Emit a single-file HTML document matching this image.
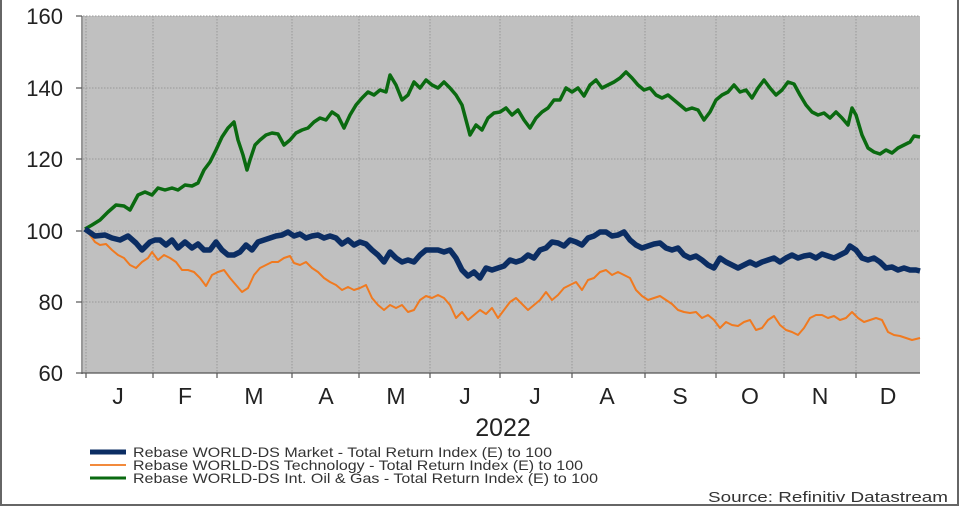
<!DOCTYPE html>
<html><head><style>body{margin:0;background:#fff}svg{display:block;font-family:"Liberation Sans",sans-serif}</style></head><body>
<svg width="960" height="508" xmlns="http://www.w3.org/2000/svg">
<rect x="1" y="-2" width="957" height="507" fill="#fff" stroke="#666" stroke-width="2"/>
<rect x="83" y="16" width="837" height="357" fill="#c0c0c0"/>
<g stroke="#999" stroke-width="1" stroke-dasharray="1.5,1.5">
<line x1="83" y1="88" x2="920" y2="88"/><line x1="83" y1="159" x2="920" y2="159"/><line x1="83" y1="231" x2="920" y2="231"/><line x1="83" y1="302" x2="920" y2="302"/><line x1="83" y1="16" x2="920" y2="16"/>
<line x1="153" y1="16" x2="153" y2="373"/><line x1="217" y1="16" x2="217" y2="373"/><line x1="292" y1="16" x2="292" y2="373"/><line x1="359" y1="16" x2="359" y2="373"/><line x1="430" y1="16" x2="430" y2="373"/><line x1="500" y1="16" x2="500" y2="373"/><line x1="572" y1="16" x2="572" y2="373"/><line x1="645" y1="16" x2="645" y2="373"/><line x1="716" y1="16" x2="716" y2="373"/><line x1="784" y1="16" x2="784" y2="373"/><line x1="856" y1="16" x2="856" y2="373"/><line x1="86" y1="16" x2="86" y2="373"/>
</g>
<g stroke="#555" stroke-width="1.2">
<line x1="82" y1="16" x2="82" y2="374"/><line x1="82" y1="373" x2="920" y2="373"/>
<line x1="76" y1="16" x2="82" y2="16"/><line x1="76" y1="88" x2="82" y2="88"/><line x1="76" y1="159" x2="82" y2="159"/><line x1="76" y1="231" x2="82" y2="231"/><line x1="76" y1="302" x2="82" y2="302"/><line x1="76" y1="373" x2="82" y2="373"/>
<line x1="86" y1="373" x2="86" y2="378"/><line x1="153" y1="373" x2="153" y2="378"/><line x1="217" y1="373" x2="217" y2="378"/><line x1="292" y1="373" x2="292" y2="378"/><line x1="359" y1="373" x2="359" y2="378"/><line x1="430" y1="373" x2="430" y2="378"/><line x1="500" y1="373" x2="500" y2="378"/><line x1="572" y1="373" x2="572" y2="378"/><line x1="645" y1="373" x2="645" y2="378"/><line x1="716" y1="373" x2="716" y2="378"/><line x1="784" y1="373" x2="784" y2="378"/><line x1="856" y1="373" x2="856" y2="378"/>
</g>
<g font-size="22" fill="#222" text-anchor="end">
<text x="63" y="24">160</text><text x="63" y="96">140</text><text x="63" y="167">120</text><text x="63" y="239">100</text><text x="63" y="310">80</text><text x="63" y="381">60</text>
</g>
<g font-size="23" fill="#222" text-anchor="middle">
<text x="118" y="404">J</text><text x="185" y="404">F</text><text x="254" y="404">M</text><text x="326" y="404">A</text><text x="396" y="404">M</text><text x="465" y="404">J</text><text x="535" y="404">J</text><text x="607" y="404">A</text><text x="680" y="404">S</text><text x="750" y="404">O</text><text x="820" y="404">N</text><text x="888" y="404">D</text>
<text x="503" y="436" font-size="25">2022</text>
</g>
<polyline fill="none" stroke="#f07a20" stroke-width="2" stroke-linejoin="round" points="85,229 90,235 95,242 100,245 106,244 112,250 118,255 124,258 130,265 136,268 142,262 148,258 152,252 158,260 164,255 170,258 176,262 182,270 188,270 194,272 200,278 206,286 212,275 218,272 224,270 230,278 236,285 242,292 248,288 254,275 260,268 266,265 272,262 278,262 284,258 290,256 294,263 300,265 306,262 312,268 318,272 324,278 330,282 336,285 342,290 348,287 354,290 360,288 366,285 372,298 378,305 384,310 390,305 396,308 402,305 408,312 414,310 420,300 426,296 432,298 438,295 444,298 450,305 456,318 462,312 468,320 474,315 480,310 486,314 492,308 498,318 504,310 510,302 516,298 522,304 528,310 534,305 540,300 546,292 552,300 558,295 564,288 570,285 576,282 582,290 588,280 594,278 600,272 606,270 612,275 618,272 624,275 630,278 636,290 642,296 648,300 654,298 660,296 666,300 672,304 678,310 684,312 690,313 696,312 702,318 708,315 714,320 720,328 726,322 732,325 738,326 744,322 750,320 756,330 762,328 768,320 774,316 780,325 786,330 792,332 798,335 804,328 810,318 816,315 822,315 828,318 834,316 840,320 846,318 852,312 858,318 864,322 870,320 876,318 882,320 888,332 894,335 900,336 906,338 912,340 920,338"/>
<polyline fill="none" stroke="#0a6a10" stroke-width="3.5" stroke-linejoin="round" points="85,229 92,225 100,220 108,212 116,205 124,206 130,210 138,195 145,192 152,195 158,188 165,190 172,188 178,190 185,185 192,186 198,183 204,170 210,162 216,150 222,137 228,128 234,122 238,140 243,155 247,170 250,160 255,145 260,140 266,135 272,133 278,134 284,145 290,140 296,133 302,130 308,128 314,122 320,118 326,120 332,112 338,116 344,128 350,115 356,105 362,98 368,92 374,95 380,90 386,92 390,75 396,85 402,100 408,95 414,82 420,88 426,80 432,85 438,88 444,82 450,88 456,95 462,105 466,120 470,135 476,125 482,130 488,118 494,113 500,112 506,108 512,115 518,110 524,120 530,128 536,118 542,112 548,108 554,100 560,100 566,88 572,92 578,88 584,96 590,85 596,80 602,88 608,85 614,82 620,78 626,72 632,78 638,85 644,90 650,88 656,95 662,98 668,95 674,100 680,105 686,110 692,108 698,110 704,120 710,112 716,100 722,95 728,92 734,85 740,92 746,90 752,98 758,88 764,80 770,88 776,95 782,90 788,82 794,84 800,95 806,105 812,112 818,115 824,113 830,118 836,112 842,118 848,125 852,108 856,115 862,135 868,148 874,152 880,154 886,150 892,153 898,148 904,145 910,142 914,136 920,137"/>
<polyline fill="none" stroke="#0b2d63" stroke-width="5.5" stroke-linejoin="round" points="85,229 95,236 105,235 112,238 120,240 128,236 136,243 142,250 150,242 155,240 160,240 166,245 172,240 178,248 185,242 192,248 198,244 204,250 210,250 216,242 222,250 228,255 234,255 240,252 246,245 252,250 258,242 264,240 270,238 276,236 282,235 288,232 294,236 300,234 306,238 312,236 318,235 324,238 330,236 336,238 342,244 348,240 354,245 360,242 366,244 372,250 378,255 384,262 390,252 396,258 402,262 408,260 414,262 420,255 426,250 432,250 438,250 444,252 450,250 456,258 462,270 468,276 474,272 480,278 486,268 492,270 498,268 504,266 510,260 516,262 522,260 528,255 534,258 540,250 546,248 552,242 558,243 564,246 570,240 576,242 582,245 588,238 594,236 600,232 606,232 612,236 618,235 624,232 630,240 636,245 642,248 648,246 654,244 660,243 666,248 672,250 678,248 684,255 690,258 696,256 702,260 708,265 714,268 720,258 726,262 732,265 738,268 744,265 750,262 756,265 762,262 768,260 774,258 780,262 786,258 792,255 798,258 804,256 810,255 816,258 822,254 828,256 834,258 840,255 846,252 850,246 856,250 862,258 868,260 874,258 880,262 886,268 892,267 898,270 904,268 910,270 916,270 920,271"/>
<line x1="90" y1="452" x2="126" y2="452" stroke="#0b2d63" stroke-width="5"/>
<line x1="90" y1="465" x2="126" y2="465" stroke="#f07a20" stroke-width="1.8"/>
<line x1="90" y1="478" x2="126" y2="478" stroke="#0a6a10" stroke-width="3"/>
<g font-size="14" fill="#333">
<text x="133" y="457" textLength="419" lengthAdjust="spacingAndGlyphs">Rebase WORLD-DS Market - Total Return Index (E) to 100</text>
<text x="133" y="470" textLength="450" lengthAdjust="spacingAndGlyphs">Rebase WORLD-DS Technology - Total Return Index (E) to 100</text>
<text x="133" y="483" textLength="465" lengthAdjust="spacingAndGlyphs">Rebase WORLD-DS Int. Oil &amp; Gas - Total Return Index (E) to 100</text>
<text x="708" y="502" font-size="15" textLength="240" lengthAdjust="spacingAndGlyphs">Source: Refinitiv Datastream</text>
</g>
</svg>
</body></html>
